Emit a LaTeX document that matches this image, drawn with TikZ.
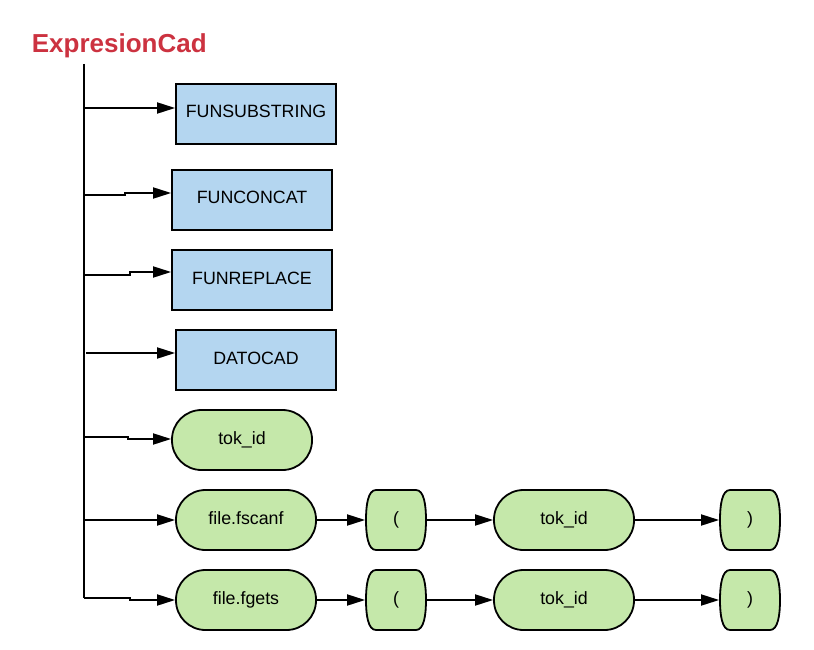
\documentclass[tikz,border=0pt]{standalone}
\usepackage{fontspec}
\setmainfont{Liberation Sans}
\usetikzlibrary{arrows.meta}
\definecolor{boxblue}{RGB}{180,214,240}
\definecolor{boxgreen}{RGB}{197,232,170}
\definecolor{titlered}{RGB}{204,50,64}

\begin{document}
\begin{tikzpicture}[x=1pt,y=-1pt,line width=1.8pt,
    arr/.style={-{Triangle[length=18pt,width=11pt]}},
    lbl/.style={inner sep=0pt,text height=13pt,text depth=5pt,font=\fontsize{17.8}{20}\selectfont},
    nt/.style={lbl,draw,fill=boxblue,minimum width=160pt,minimum height=60pt},
    tk/.style={lbl,draw,fill=boxgreen,rounded corners=29.5pt,minimum width=140pt,minimum height=60pt},
    pt/.style={lbl,minimum width=60pt,minimum height=60pt},
    bulge/.pic={\draw[fill=boxgreen] (-20,-30) -- (20,-30)
      .. controls (28,-30) and (30,-15) .. (30,0)
      .. controls (30,15) and (28,30) .. (20,30) -- (-20,30)
      .. controls (-28,30) and (-30,15) .. (-30,0)
      .. controls (-30,-15) and (-28,-30) .. (-20,-30) -- cycle;}]
  \useasboundingbox (0,0) rectangle (814,650);

  \node[anchor=base west,inner sep=0pt,text=titlered,font=\bfseries\fontsize{26}{30}\selectfont] (title) at (31,53) {ExpresionCad};

  % trunk
  \coordinate (top) at (84,64);
  \coordinate (bot) at (84,598);
  \draw (top) -- (bot);

  % nonterminals
  \node[nt] (sub) at (256,114) {FUNSUBSTRING};
  \node[nt] (cat) at (252,200) {FUNCONCAT};
  \node[nt] (rep) at (252,280) {FUNREPLACE};
  \node[nt] (dat) at (256,360) {DATOCAD};

  % terminals
  \node[tk] (tok) at (242,440) {tok\_id};
  \node[tk] (fsc) at (246,520) {file.fscanf};
  \pic at (396,520) {bulge};
  \node[pt] (lpa) at (396,520) {(};
  \node[tk] (tka) at (564,520) {tok\_id};
  \pic at (750,520) {bulge};
  \node[pt] (rpa) at (750,520) {)};
  \node[tk] (fgt) at (246,600) {file.fgets};
  \pic at (396,600) {bulge};
  \node[pt] (lpb) at (396,600) {(};
  \node[tk] (tkb) at (564,600) {tok\_id};
  \pic at (750,600) {bulge};
  \node[pt] (rpb) at (750,600) {)};

  % branches
  \coordinate (b1) at (84,108);
  \coordinate (b2) at (84,195);
  \coordinate (b3) at (84,275);
  \coordinate (b4) at (86,353);
  \coordinate (b5) at (84,437);
  \coordinate (b6) at (84,520);
  \draw[arr] (b1) -- (b1 -| sub.west);
  \draw[arr] (b2) -- ++(41,0) |- ([yshift=7pt]cat.west);
  \draw[arr] (b3) -- ++(46,0) |- ([yshift=8pt]rep.west);
  \draw[arr] (b4) -- (b4 -| dat.west);
  \draw[arr] (b5) -- ++(44,0) |- ([yshift=1pt]tok.west);
  \draw[arr] (b6) -- (fsc.west);
  \draw[arr] (bot) -- ++(46,0) |- (fgt.west);

  % sequences
  \draw[arr] (fsc.east) -- (lpa.west);
  \draw[arr] (lpa.east) -- (tka.west);
  \draw[arr] (tka.east) -- (rpa.west);
  \draw[arr] (fgt.east) -- (lpb.west);
  \draw[arr] (lpb.east) -- (tkb.west);
  \draw[arr] (tkb.east) -- (rpb.west);
\end{tikzpicture}
\end{document}
